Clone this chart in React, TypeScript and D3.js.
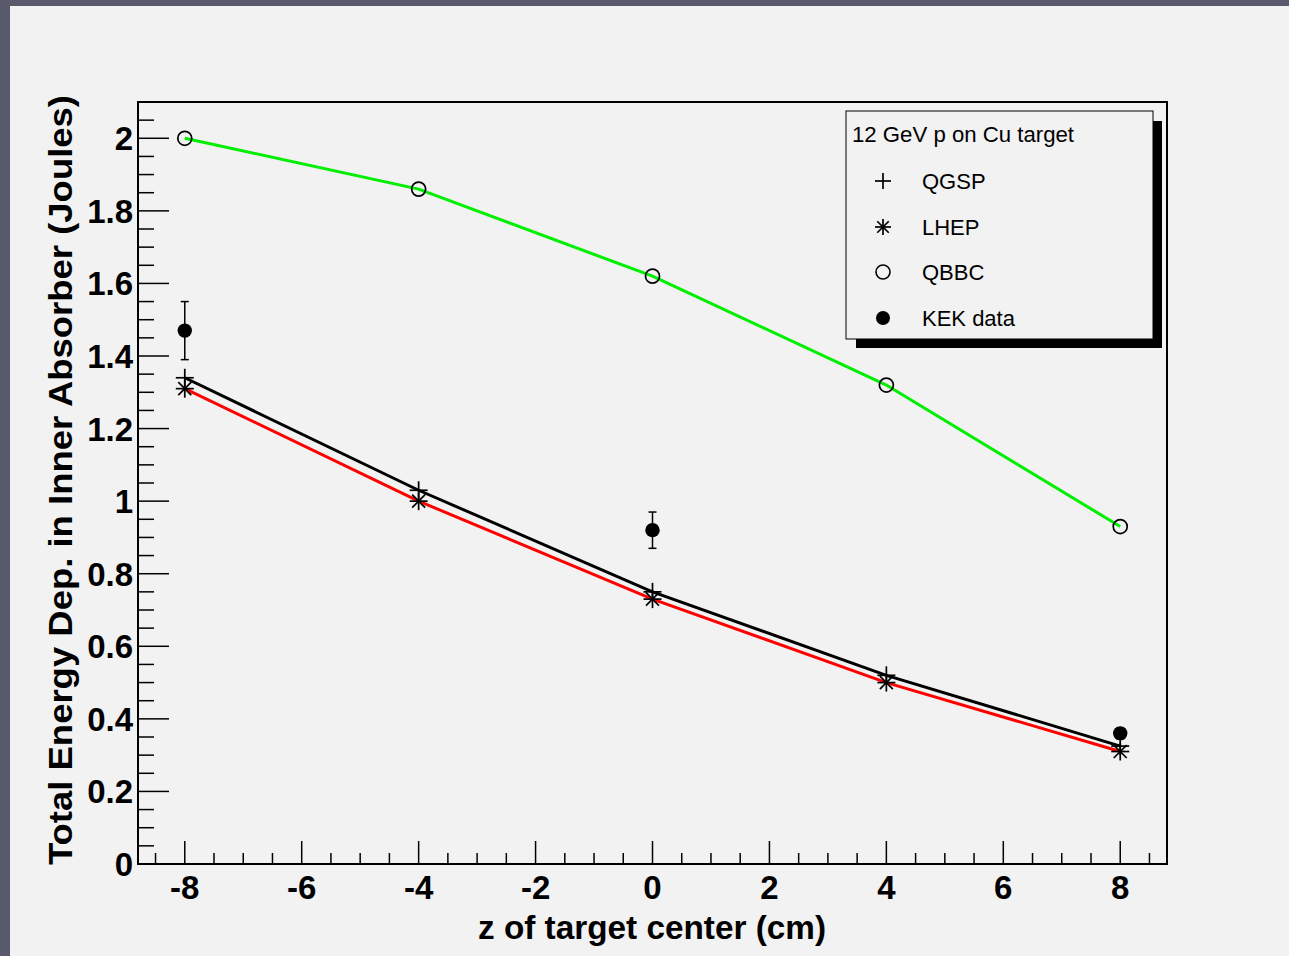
import React from "react";
import * as d3 from "d3";

const zPositions = [-8, -4, 0, 4, 8];
const qgspValues = [1.34, 1.03, 0.75, 0.52, 0.325];
const lhepValues = [1.31, 1.0, 0.73, 0.5, 0.31];
const qbbcValues = [2.0, 1.86, 1.62, 1.32, 0.93];
const kekZ = [-8, 0, 8];
const kekValues = [1.47, 0.92, 0.36];
const kekErrors = [0.08, 0.05, 0.015];
const xMajorTicks = [-8, -6, -4, -2, 0, 2, 4, 6, 8];
const yMajorTicks = [0, 0.2, 0.4, 0.6, 0.8, 1, 1.2, 1.4, 1.6, 1.8, 2];
const legendTitle = "12 GeV p on Cu target";
const legendLabels = ["QGSP", "LHEP", "QBBC", "KEK data"];
const xTitle = "z of target center (cm)";
const yTitle = "Total Energy Dep. in Inner Absorber (Joules)";

const W = 1289;
const H = 956;
const FL = 138, FR = 1167, FT = 102, FB = 864;

const x = d3.scaleLinear().domain([-8.8, 8.8]).range([FL, FR]);
const y = d3.scaleLinear().domain([0, 2.1]).range([FB, FT]);

const font = "'Liberation Sans', Arial, Helvetica, sans-serif";

function Plus({ cx, cy, s = 8 }: { cx: number; cy: number; s?: number }) {
  return (
    <g stroke="#000" strokeWidth={1.7}>
      <line x1={cx - s} x2={cx + s} y1={cy} y2={cy} />
      <line x1={cx} x2={cx} y1={cy - s} y2={cy + s} />
    </g>
  );
}

function Star({ cx, cy, s = 8 }: { cx: number; cy: number; s?: number }) {
  const d = s * 0.72;
  return (
    <g stroke="#000" strokeWidth={1.7}>
      <line x1={cx - s} x2={cx + s} y1={cy} y2={cy} />
      <line x1={cx} x2={cx} y1={cy - s} y2={cy + s} />
      <line x1={cx - d} x2={cx + d} y1={cy - d} y2={cy + d} />
      <line x1={cx - d} x2={cx + d} y1={cy + d} y2={cy - d} />
    </g>
  );
}

export default function App() {
  const line = d3
    .line<[number, number]>()
    .x((d) => x(d[0]))
    .y((d) => y(d[1]));

  const xMinor = d3.range(-8.5, 8.51, 0.5).filter((v) => Math.abs(v % 2) > 1e-6);
  const yMinor = d3.range(0.05, 2.1, 0.05).filter((v) => Math.abs(v / 0.2 - Math.round(v / 0.2)) > 1e-6);

  const legendRows = [181, 227, 272, 318];

  return (
    <svg
      width={W}
      height={H}
      style={{ position: "absolute", left: 0, top: 0, display: "block" }}
      fontFamily={font}
    >
      <rect x={0} y={0} width={W} height={H} fill="#585a6b" />
      <rect x={10} y={6} width={W - 10} height={H - 6} fill="#f2f2f2" />

      {/* frame */}
      <rect x={FL} y={FT} width={FR - FL} height={FB - FT} fill="none" stroke="#000" strokeWidth={2} />

      {/* x ticks */}
      {xMajorTicks.map((t) => (
        <line key={"xM" + t} x1={x(t)} x2={x(t)} y1={FB} y2={FB - 23} stroke="#000" strokeWidth={1.5} />
      ))}
      {xMinor.map((t) => (
        <line key={"xm" + t} x1={x(t)} x2={x(t)} y1={FB} y2={FB - 11} stroke="#000" strokeWidth={1.5} />
      ))}
      {xMajorTicks.map((t) => (
        <text key={"xl" + t} x={x(t)} y={899} textAnchor="middle" fontSize={33} fontWeight="bold">
          {t}
        </text>
      ))}

      {/* y ticks */}
      {yMajorTicks.map((t) => (
        <line key={"yM" + t} x1={FL} x2={FL + 31} y1={y(t)} y2={y(t)} stroke="#000" strokeWidth={1.5} />
      ))}
      {yMinor.map((t) => (
        <line key={"ym" + t.toFixed(2)} x1={FL} x2={FL + 16} y1={y(t)} y2={y(t)} stroke="#000" strokeWidth={1.5} />
      ))}
      {yMajorTicks.map((t) => (
        <text key={"yl" + t} x={133} y={y(t) + 12} textAnchor="end" fontSize={33} fontWeight="bold">
          {d3.format("~g")(t)}
        </text>
      ))}

      {/* axis titles */}
      <text x={652} y={939} textAnchor="middle" fontSize={34} fontWeight="bold" textLength={348} lengthAdjust="spacingAndGlyphs">
        {xTitle}
      </text>
      <text
        transform={`translate(72, 480) rotate(-90)`}
        textAnchor="middle"
        fontSize={34}
        fontWeight="bold"
        textLength={770}
        lengthAdjust="spacingAndGlyphs"
      >
        {yTitle}
      </text>

      {/* curves */}
      <path d={line(zPositions.map((z, i) => [z, qbbcValues[i]]) as [number, number][]) || ""} fill="none" stroke="#00ee00" strokeWidth={3} />
      <path d={line(zPositions.map((z, i) => [z, lhepValues[i]]) as [number, number][]) || ""} fill="none" stroke="#ff0000" strokeWidth={3} />
      <path d={line(zPositions.map((z, i) => [z, qgspValues[i]]) as [number, number][]) || ""} fill="none" stroke="#000" strokeWidth={3} />

      {/* markers */}
      {zPositions.map((z, i) => (
        <circle key={"qb" + z} cx={x(z)} cy={y(qbbcValues[i])} r={7} fill="none" stroke="#000" strokeWidth={1.7} />
      ))}
      {zPositions.map((z, i) => (
        <Plus key={"qg" + z} cx={x(z)} cy={y(qgspValues[i])} s={9} />
      ))}
      {zPositions.map((z, i) => (
        <Star key={"lh" + z} cx={x(z)} cy={y(lhepValues[i])} s={9} />
      ))}

      {/* KEK data */}
      {kekZ.map((z, i) => {
        const cx = x(z);
        const top = y(kekValues[i] + kekErrors[i]);
        const bot = y(kekValues[i] - kekErrors[i]);
        return (
          <g key={"kek" + z}>
            <line x1={cx} x2={cx} y1={top} y2={bot} stroke="#000" strokeWidth={1.5} />
            <line x1={cx - 4} x2={cx + 4} y1={top} y2={top} stroke="#000" strokeWidth={1.5} />
            <line x1={cx - 4} x2={cx + 4} y1={bot} y2={bot} stroke="#000" strokeWidth={1.5} />
            <circle cx={cx} cy={y(kekValues[i])} r={7.2} fill="#000" />
          </g>
        );
      })}

      {/* legend */}
      <rect x={856} y={121} width={306} height={227} fill="#000" />
      <rect x={846} y={111} width={307} height={228} fill="#f2f2f2" stroke="#000" strokeWidth={1} />
      <text x={852} y={142} fontSize={22} textLength={222} lengthAdjust="spacingAndGlyphs">
        {legendTitle}
      </text>
      <Plus cx={883} cy={legendRows[0]} s={8} />
      <Star cx={883} cy={legendRows[1]} s={8} />
      <circle cx={883} cy={legendRows[2]} r={7} fill="none" stroke="#000" strokeWidth={1.6} />
      <circle cx={883} cy={legendRows[3]} r={7} fill="#000" />
      {legendLabels.map((l, i) => (
        <text key={l} x={922} y={legendRows[i] + 8} fontSize={22}>
          {l}
        </text>
      ))}
    </svg>
  );
}
